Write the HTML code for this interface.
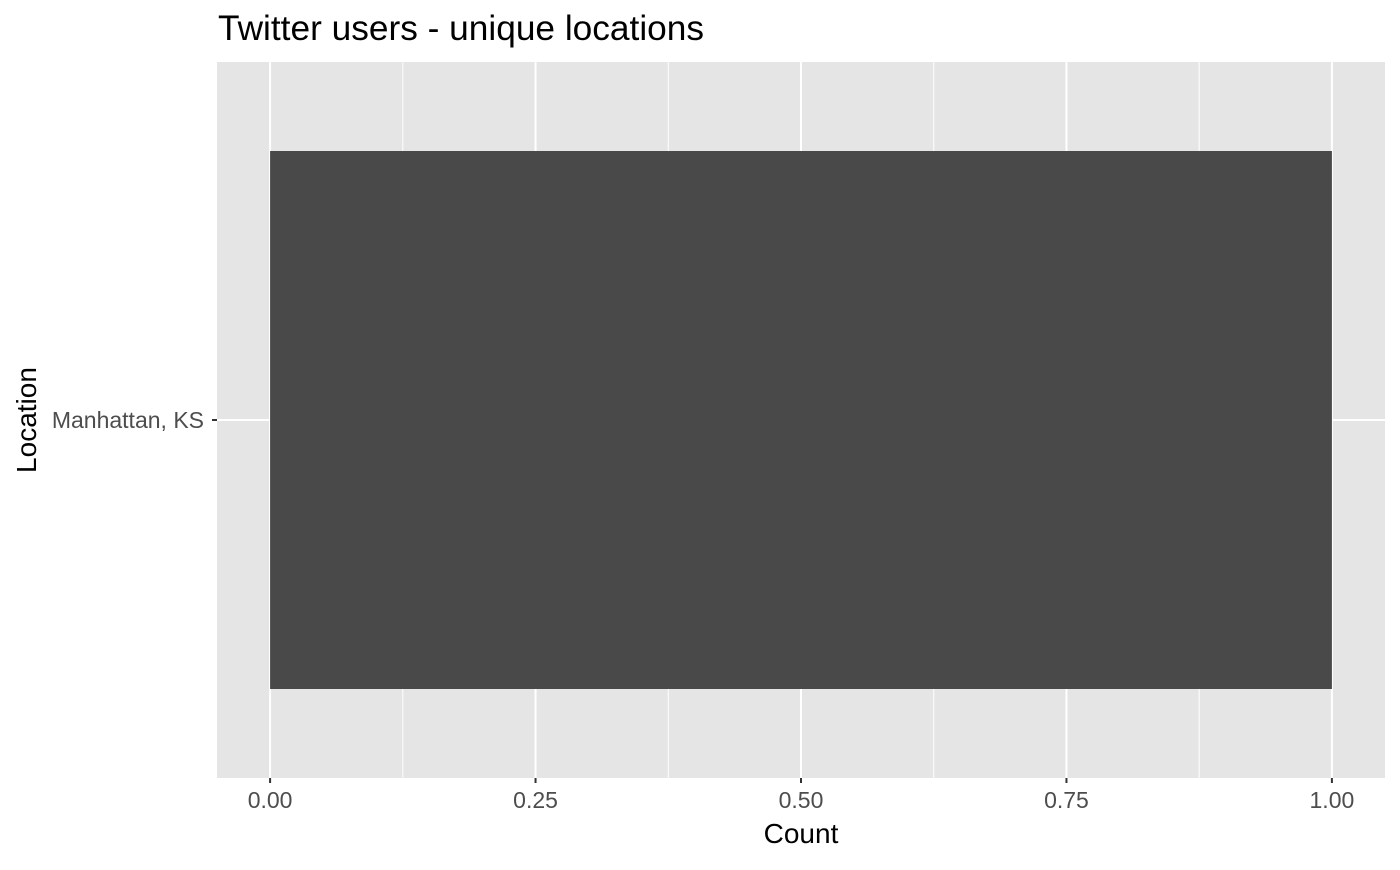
<!DOCTYPE html>
<html><head><meta charset="utf-8"><style>
body{margin:0;background:#fff;font-family:"Liberation Sans",Arial,sans-serif}
</style></head><body>
<svg id="chart" width="1400" height="865" xmlns="http://www.w3.org/2000/svg">
<text x="218" y="40" font-size="35" textLength="486" lengthAdjust="spacingAndGlyphs" fill="#000">Twitter users - unique locations</text>
<rect x="217" y="62" width="1168" height="716" fill="#e5e5e5"/>
<g id="grid"></g>
<g id="bars"></g>
<g id="axes"></g>
<text x="801" y="843" font-size="28" text-anchor="middle" fill="#000">Count</text>
<text transform="translate(36,420) rotate(-90)" font-size="28" text-anchor="middle" fill="#000">Location</text>
</svg>
<script>
const categories=["Manhattan, KS"];
const values=[1];
const xTicks=[0,0.25,0.5,0.75,1];
const xTickLabels=["0.00","0.25","0.50","0.75","1.00"];
const NS="http://www.w3.org/2000/svg";
const pL=217,pR=1385,pT=62,pB=778;
const xmin=-0.05,xmax=1.05;
const x=v=>pL+(v-xmin)/(xmax-xmin)*(pR-pL);
const band=(pB-pT)/categories.length;
const yc=i=>pT+band*(categories.length-1-i)+band/2;
function mk(t,a,p){const e=document.createElementNS(NS,t);for(const k in a)e.setAttribute(k,a[k]);p.appendChild(e);return e;}
const grid=document.getElementById('grid'),bars=document.getElementById('bars'),axes=document.getElementById('axes');
for(let i=0;i<xTicks.length-1;i++){
 const m=(xTicks[i]+xTicks[i+1])/2;
 const l=mk('line',{x1:x(m),x2:x(m),y1:pT,y2:pB,stroke:'#fff','stroke-width':1},grid);
 
 
}
xTicks.forEach((t,i)=>{
 const l=mk('line',{x1:x(t),x2:x(t),y1:pT,y2:pB,stroke:'#fff','stroke-width':2},grid);
 
 
 const tk=mk('line',{x1:x(t),x2:x(t),y1:pB,y2:pB+5,stroke:'#333','stroke-width':2},axes);
 
 
 const tx=mk('text',{x:x(t),y:pB+30,'font-size':23,'text-anchor':'middle',fill:'#4d4d4d'},axes);
 tx.textContent=xTickLabels[i];
 
 
});
categories.forEach((c,i)=>{
 const g=mk('line',{x1:pL,x2:pR,y1:yc(i),y2:yc(i),stroke:'#fff','stroke-width':2},grid);
 
 
 const r=mk('rect',{x:x(0),y:yc(i)-269,width:x(values[i])-x(0),height:538,fill:'#494949'},bars);
 
 
 const tk=mk('line',{x1:pL-5,x2:pL,y1:yc(i),y2:yc(i),stroke:'#333','stroke-width':2},axes);
 
 
 const tx=mk('text',{x:pL-13,y:yc(i)+8,'font-size':23,'text-anchor':'end',fill:'#4d4d4d'},axes);
 tx.textContent=c;
 
 
});
</script>
</body></html>
